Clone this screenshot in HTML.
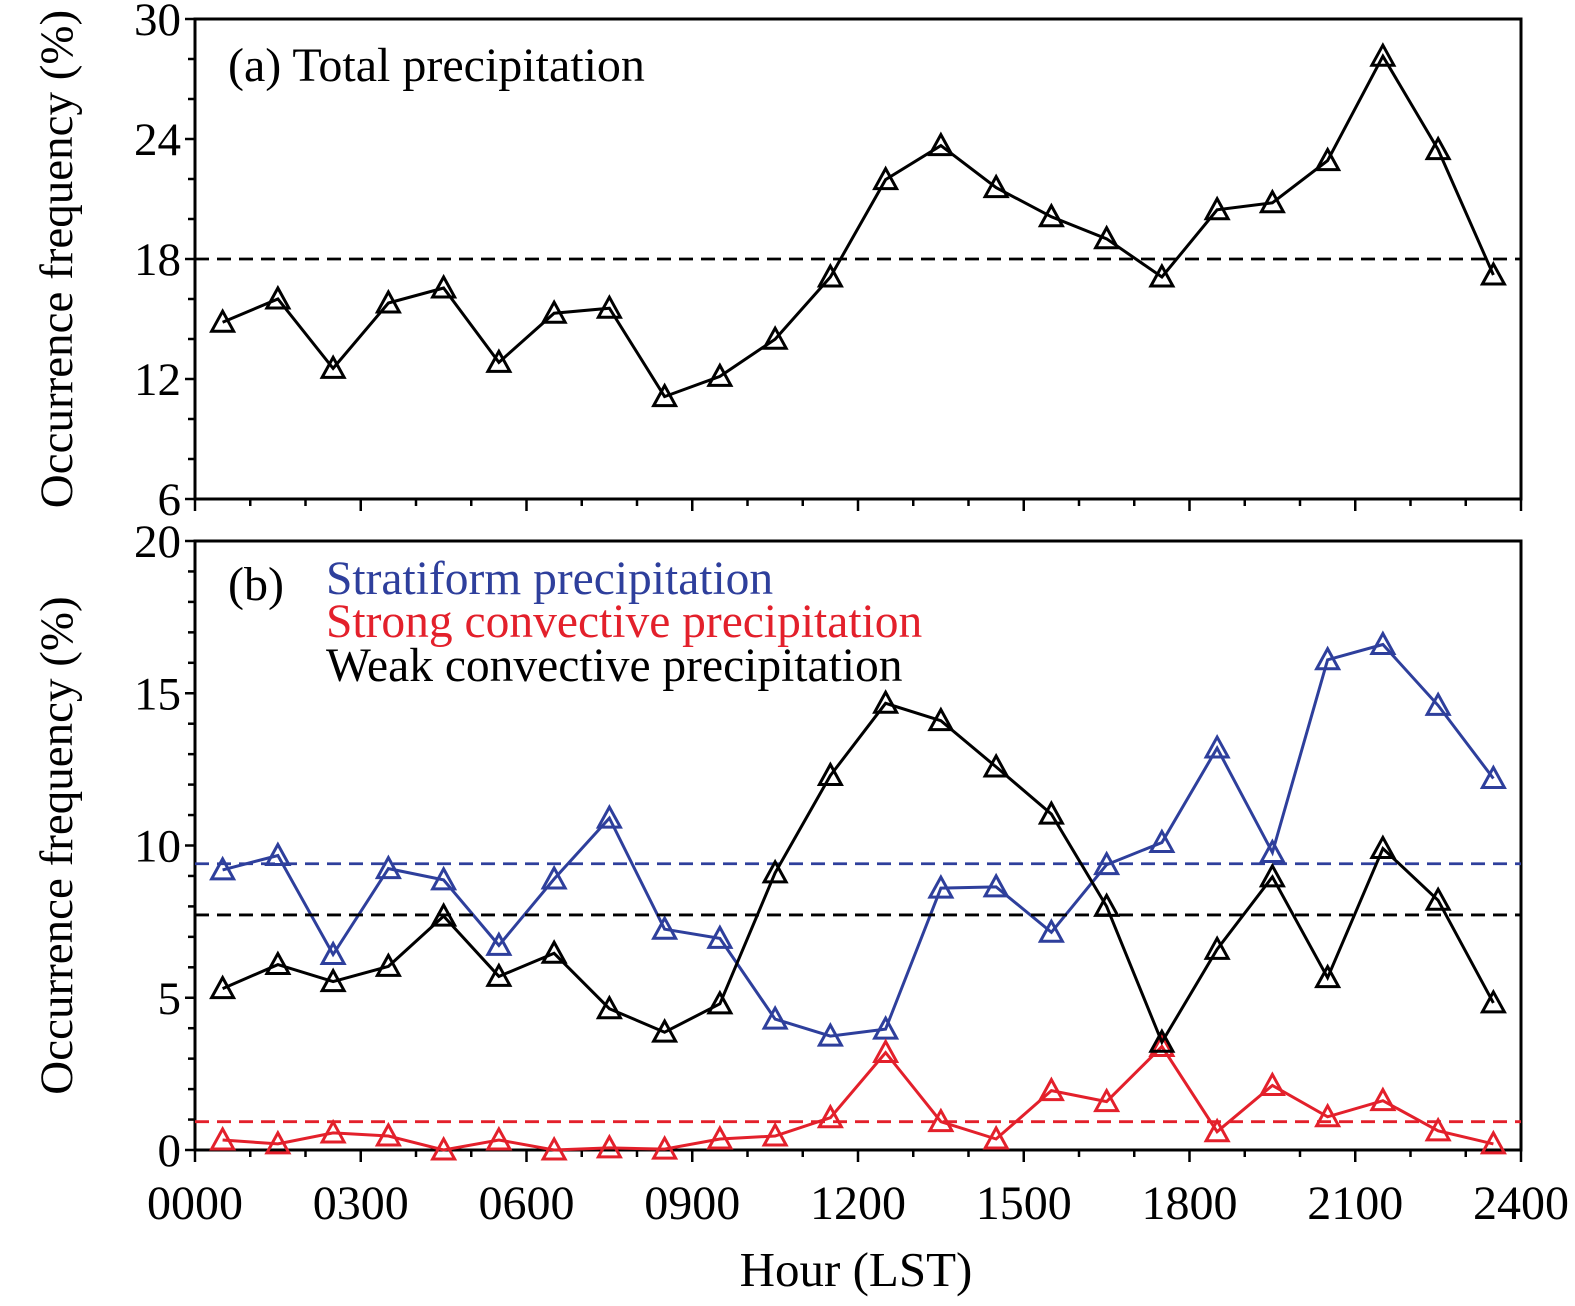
<!DOCTYPE html>
<html><head><meta charset="utf-8">
<style>
html,body{margin:0;padding:0;background:#fff;}
svg{display:block;font-family:"Liberation Serif",serif;}
</style></head>
<body>
<svg id="chart" width="1575" height="1306" viewBox="0 0 1575 1306" xmlns="http://www.w3.org/2000/svg">
<g id="pa"></g>
<g id="pb"></g>
<text x="856" y="1286" font-size="49" text-anchor="middle">Hour (LST)</text>
</svg>
<script>
const hours = [0.5,1.5,2.5,3.5,4.5,5.5,6.5,7.5,8.5,9.5,10.5,11.5,12.5,13.5,14.5,15.5,16.5,17.5,18.5,19.5,20.5,21.5,22.5,23.5];
const xTickLabels = ["0000","0300","0600","0900","1200","1500","1800","2100","2400"];
const totalVals = [14.84,16.0,12.53,15.8,16.55,12.83,15.29,15.54,11.12,12.13,13.99,17.1,21.97,23.67,21.57,20.11,19.01,17.1,20.46,20.81,22.92,28.14,23.47,17.2];
const totalMean = 18;
const stratVals = [9.2,9.67,6.42,9.24,8.87,6.72,8.9,10.9,7.25,6.95,4.3,3.74,3.97,8.6,8.64,7.15,9.37,10.1,13.2,9.77,16.1,16.6,14.6,12.2];
const weakVals = [5.3,6.09,5.53,6.03,7.68,5.7,6.46,4.64,3.87,4.8,9.1,12.3,14.67,14.1,12.58,11.03,8.0,3.54,6.59,8.97,5.66,9.9,8.2,4.83];
const strongVals = [0.33,0.2,0.56,0.46,0.0,0.33,0.0,0.07,0.03,0.36,0.46,1.06,3.2,0.93,0.36,1.95,1.59,3.4,0.6,2.12,1.09,1.62,0.63,0.2];
const stratMean = 9.4, weakMean = 7.72, strongMean = 0.93;
const yTicksA = [6,12,18,24,30];
const yTicksB = [0,5,10,15,20];

const NS="http://www.w3.org/2000/svg";
const X0=195, X1=1521;
const xs = h => X0 + (X1-X0)*h/24;
function mk(parent, tag, attrs){
  const e=document.createElementNS(NS,tag);
  for(const k in attrs) e.setAttribute(k,attrs[k]);
  parent.appendChild(e); return e;
}
function panel(g, top, bot, ymin, ymax, yTicks, minorStep, showXLabels){
  const ys = v => bot - (bot-top)*(v-ymin)/(ymax-ymin);
  const r=mk(g,'rect',{x:X0,y:top,width:X1-X0,height:bot-top,fill:'none',stroke:'#000','stroke-width':3});
  
  
  for(let v=ymin; v<=ymax+1e-9; v+=minorStep){
    const major = yTicks.some(t=>Math.abs(t-v)<1e-6);
    const t=mk(g,'line',{x1:X0-(major?10:7),x2:X0,y1:ys(v),y2:ys(v),stroke:'#000','stroke-width':2.5});
    
    
  }
  yTicks.forEach(v=>{
    const t=mk(g,'text',{x:X0-14,y:ys(v)+16,'font-size':47,'text-anchor':'end'});
    t.textContent=v;
    
    
  });
  for(let h=0; h<=24; h++){
    const major = h%3===0;
    const t=mk(g,'line',{x1:xs(h),x2:xs(h),y1:bot,y2:bot+(major?12:7),stroke:'#000','stroke-width':2.5});
    
    
  }
  if(showXLabels){
    xTickLabels.forEach((lab,i)=>{
      const t=mk(g,'text',{x:xs(i*3),y:bot+69,'font-size':48,'text-anchor':'middle'});
      t.textContent=lab;
      
      
    });
  }
  const yl=mk(g,'text',{x:0,y:0,'font-size':47,'text-anchor':'middle',transform:`translate(72,${(top+bot)/2}) rotate(-90)`});
  yl.textContent='Occurrence frequency (%)';
  
  
  return ys;
}
function series(g, ys, vals, mean, color, name){
  const d=mk(g,'line',{x1:X0,x2:X1,y1:ys(mean),y2:ys(mean),stroke:color,'stroke-width':2.8,'stroke-dasharray':'14,8'});
  
  
  const pts=vals.map((v,i)=>xs(hours[i]).toFixed(1)+','+ys(v).toFixed(1)).join(' ');
  const l=mk(g,'polyline',{points:pts,fill:'none',stroke:color,'stroke-width':3});
  
  
  vals.forEach((v,i)=>{
    const x=xs(hours[i]), y=ys(v);
    const p=mk(g,'polygon',{points:`${x-11},${y+9} ${x+11},${y+9} ${x},${y-11}`,fill:'none',stroke:color,'stroke-width':3});
    
    
  });
}
const ga=document.getElementById('pa'), gb=document.getElementById('pb');
const ysA=panel(ga,19,499,6,30,yTicksA,2,false);
series(ga,ysA,totalVals,totalMean,'#000','total');
let t=mk(ga,'text',{x:228,y:81,'font-size':48});t.textContent='(a) Total precipitation';



const ysB=panel(gb,541,1150,0,20,yTicksB,1,true);
series(gb,ysB,stratVals,stratMean,'#2e3f9c','stratiform');
series(gb,ysB,strongVals,strongMean,'#e3202b','strong-convective');
series(gb,ysB,weakVals,weakMean,'#000','weak-convective');
t=mk(gb,'text',{x:228,y:600,'font-size':48});t.textContent='(b)';


[['Stratiform precipitation','#2e3f9c',594,'legend-stratiform'],['Strong convective precipitation','#e3202b',637,'legend-strong-convective'],['Weak convective precipitation','#000',681,'legend-weak-convective']].forEach(a=>{
  const e=mk(gb,'text',{x:326,y:a[2],'font-size':47.5,fill:a[1]});e.textContent=a[0];
  
  
});
</script>
</body></html>
